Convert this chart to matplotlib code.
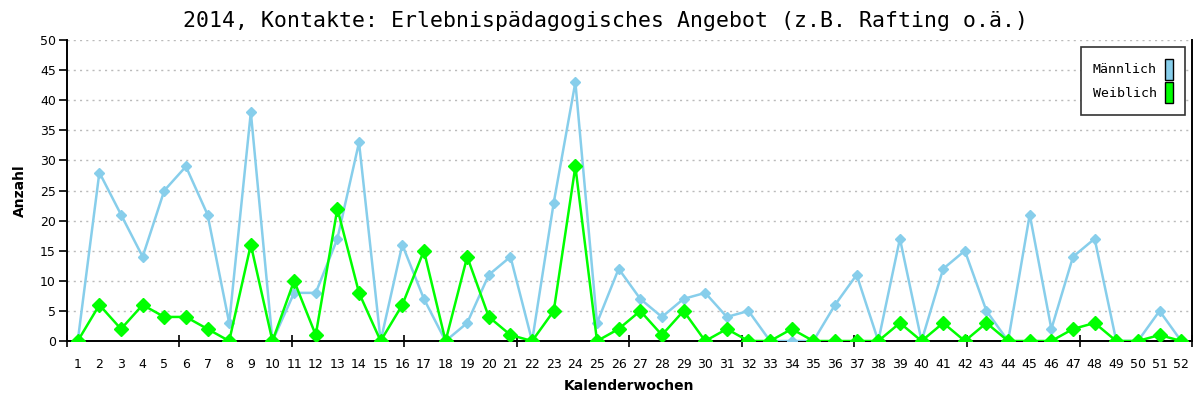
import matplotlib.pyplot as plt
from matplotlib.patches import Patch
import numpy as np

# weekly contact counts, 2014
weeks = list(range(1, 53))
maennlich = [0, 28, 21, 14, 25, 29, 21, 3, 38, 0, 8, 8, 17, 33, 0, 16, 7, 0, 3, 11,
             14, 0, 23, 43, 3, 12, 7, 4, 7, 8, 4, 5, 0, 0, 0, 6, 11, 0, 17, 0,
             12, 15, 5, 0, 21, 2, 14, 17, 0, 0, 5, 0]
weiblich = [0, 6, 2, 6, 4, 4, 2, 0, 16, 0, 10, 1, 22, 8, 0, 6, 15, 0, 14, 4,
            1, 0, 5, 29, 0, 2, 5, 1, 5, 0, 2, 0, 0, 2, 0, 0, 0, 0, 3, 0,
            3, 0, 3, 0, 0, 0, 2, 3, 0, 0, 1, 0]

blue = '#87ceeb'
green = '#00ff00'

fig = plt.figure(figsize=(11.95, 4.01), dpi=100)
ax = fig.add_axes([0.056, 0.1496, 0.9415, 0.7504])

ax.plot(weeks, maennlich, color=blue, lw=1.8, marker='D', ms=5.5, mec=blue, zorder=3)
ax.plot(weeks, weiblich, color=green, lw=1.8, marker='D', ms=7, mec=green, zorder=4)

ax.set_xlim(0.5, 52.5)
ax.set_ylim(0, 50)
ax.set_yticks(range(0, 51, 5))
ax.set_xticks(weeks)
ax.set_xticklabels([str(w) for w in weeks])
ax.set_xticks(np.linspace(0.5, 52.5, 11), minor=True)
ax.tick_params(axis='x', which='major', length=0, pad=12, labelsize=9)
ax.tick_params(axis='x', which='minor', direction='inout', length=9, width=1.2)
ax.tick_params(axis='y', direction='out', length=6, width=1.2, labelsize=9, pad=2)

ax.grid(axis='y', color='#bbbbbb', linestyle=(0, (1.5, 3)), lw=1)
ax.set_axisbelow(True)
ax.spines['top'].set_visible(False)
for s in ('left', 'bottom', 'right'):
    ax.spines[s].set_linewidth(1.4)

fig.suptitle('2014, Kontakte: Erlebnispädagogisches Angebot (z.B. Rafting o.ä.)',
             x=0.507, y=0.972, family='DejaVu Sans Mono', fontsize=15.5)
ax.set_xlabel('Kalenderwochen', fontweight='bold', fontsize=10, labelpad=6)
ax.set_ylabel('Anzahl', fontweight='bold', fontsize=10, labelpad=9)

handles = [Patch(facecolor=blue, edgecolor='black', lw=1),
           Patch(facecolor=green, edgecolor='black', lw=1)]
leg = ax.legend(handles, ['Männlich', 'Weiblich'], loc='upper right',
                bbox_to_anchor=(0.9996, 1.0), markerfirst=False,
                handlelength=0.65, handleheight=2.1, handletextpad=0.6,
                prop={'family': 'DejaVu Sans Mono', 'size': 9.5},
                fancybox=False, edgecolor='#333333',
                framealpha=1, borderpad=0.9, labelspacing=0.15)
leg.get_frame().set_linewidth(1.2)

fig.savefig('out.png', dpi=100)
